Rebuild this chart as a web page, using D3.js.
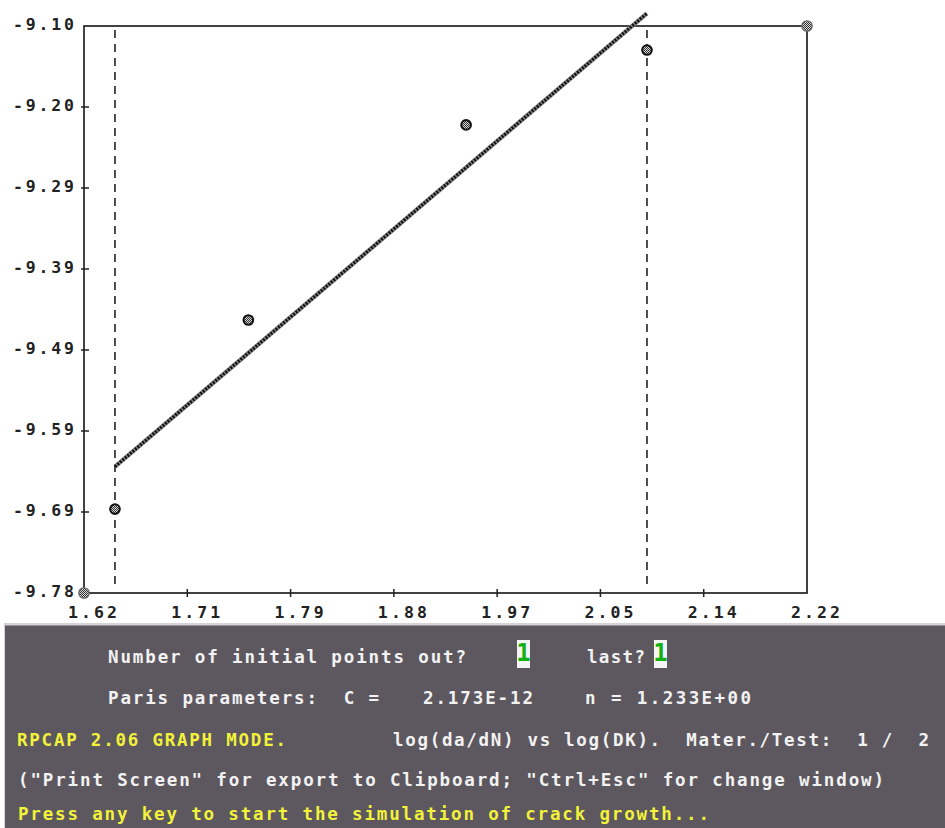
<!DOCTYPE html>
<html>
<head>
<meta charset="utf-8">
<script src="https://cdn.jsdelivr.net/npm/d3@7"></script>
<style>
  body { margin: 0; background: #fff; }
  svg { display: block; }
  text { font-family: "DejaVu Sans Mono", "Liberation Mono", monospace; font-weight: bold; }
</style>
</head>
<body>
<div id="chart-container"></div>
<script>
// log(DK) vs log(da/dN) measurements
const logDK = [1.6457, 1.7564, 1.9371, 2.0872];
const logDaDN = [-9.6793, -9.4526, -9.2187, -9.1288];

// corner markers of the graph window
const cornerX = [1.62, 2.22];
const cornerY = [-9.78, -9.10];

// Paris fit line end points
const fitX = [1.6457, 2.0872];
const fitY = [-9.6285, -9.0848];

// selected range limits (dashed lines)
const limitX = [1.6457, 2.0872];

const xTickLabels = ["1.62", "1.71", "1.79", "1.88", "1.97", "2.05", "2.14", "2.22"];
const yTickLabels = ["-9.78", "-9.69", "-9.59", "-9.49", "-9.39", "-9.29", "-9.20", "-9.10"];

const width = 945;
const height = 828;
const margin = { left: 84, right: 138, top: 26, bottom: 235 };

const svg = d3.select("#chart-container")
    .append("svg")
    .attr("width", width)
    .attr("height", height);

const defs = svg.append("defs");
const dither = defs.append("pattern")
    .attr("id", "dither")
    .attr("width", 2).attr("height", 2)
    .attr("patternUnits", "userSpaceOnUse");
dither.append("rect").attr("width", 2).attr("height", 2).attr("fill", "#d8d8d8");
dither.append("rect").attr("width", 1).attr("height", 1).attr("fill", "#333");
dither.append("rect").attr("x", 1).attr("y", 1).attr("width", 1).attr("height", 1).attr("fill", "#333");

const x = d3.scaleLinear()
    .domain([cornerX[0], cornerX[1]])
    .range([margin.left, width - margin.right]);
const y = d3.scaleLinear()
    .domain([cornerY[0], cornerY[1]])
    .range([height - margin.bottom, margin.top]);

// evenly spaced tick positions, labels as printed by the program
const xTicks = d3.range(xTickLabels.length).map(i => cornerX[0] + i * (cornerX[1] - cornerX[0]) / (xTickLabels.length - 1));
const yTicks = d3.range(yTickLabels.length).map(i => cornerY[0] + i * (cornerY[1] - cornerY[0]) / (yTickLabels.length - 1));

const ink = "#222";

// frame
svg.append("rect")
    .attr("x", x.range()[0]).attr("y", y.range()[1])
    .attr("width", x.range()[1] - x.range()[0])
    .attr("height", y.range()[0] - y.range()[1])
    .attr("fill", "none")
    .attr("stroke", ink)
    .attr("stroke-width", 1.7);

// tick marks
svg.append("g").selectAll("line")
    .data(xTicks.slice(1, -1))
    .join("line")
    .attr("x1", d => x(d)).attr("x2", d => x(d))
    .attr("y1", y.range()[0] - 4).attr("y2", y.range()[0] + 4)
    .attr("stroke", ink).attr("stroke-width", 1.5);

svg.append("g").selectAll("line")
    .data(yTicks.slice(1, -1))
    .join("line")
    .attr("x1", x.range()[0] - 3).attr("x2", x.range()[0] + 5)
    .attr("y1", d => y(d)).attr("y2", d => y(d))
    .attr("stroke", ink).attr("stroke-width", 1.5);

// tick labels
svg.append("g").selectAll("text")
    .data(xTicks)
    .join("text")
    .attr("x", d => x(d) - 16)
    .attr("y", y.range()[0] + 25)
    .attr("textLength", 49)
    .attr("lengthAdjust", "spacing")
    .attr("font-size", 16.5)
    .attr("fill", ink)
    .text((d, i) => xTickLabels[i]);

svg.append("g").selectAll("text")
    .data(yTicks)
    .join("text")
    .attr("x", 13)
    .attr("y", d => y(d) + 4)
    .attr("textLength", 61)
    .attr("lengthAdjust", "spacing")
    .attr("font-size", 16.5)
    .attr("fill", ink)
    .text((d, i) => yTickLabels[i]);

// dashed limits
svg.append("g").selectAll("line")
    .data(limitX)
    .join("line")
    .attr("x1", d => x(d)).attr("x2", d => x(d))
    .attr("y1", y.range()[1] + 4).attr("y2", y.range()[0] - 4)
    .attr("stroke", ink)
    .attr("stroke-width", 1.6)
    .attr("stroke-dasharray", "8,6");

// Paris fit line (textured like the original)
const fit = fitX.map((d, i) => [d, fitY[i]]);
const line = d3.line().x(d => x(d[0])).y(d => y(d[1]));
svg.append("path")
    .attr("d", line(fit))
    .attr("stroke", "#8a8a8a")
    .attr("stroke-width", 4.4)
    .attr("fill", "none");
svg.append("path")
    .attr("d", line(fit))
    .attr("stroke", "#111")
    .attr("stroke-width", 3.2)
    .attr("stroke-dasharray", "2,1.3")
    .attr("fill", "none");

// corner markers
svg.append("g").selectAll("circle")
    .data(cornerX.map((d, i) => [d, cornerY[i]]))
    .join("circle")
    .attr("cx", d => x(d[0])).attr("cy", d => y(d[1]))
    .attr("r", 5.2)
    .attr("fill", "url(#dither)")
    .attr("stroke", "#666")
    .attr("stroke-width", 1.3);

// data points
svg.append("g").selectAll("circle")
    .data(logDK.map((d, i) => [d, logDaDN[i]]))
    .join("circle")
    .attr("cx", d => x(d[0])).attr("cy", d => y(d[1]))
    .attr("r", 4.8)
    .attr("fill", "url(#dither)")
    .attr("stroke", "#111")
    .attr("stroke-width", 2.1);

// bottom text panel
svg.append("rect")
    .attr("x", 4).attr("y", 623)
    .attr("width", width - 4).attr("height", height - 623)
    .attr("fill", "#d6d2d6");
svg.append("rect")
    .attr("x", 5).attr("y", 625.5)
    .attr("width", width - 5).attr("height", height - 625.5)
    .attr("fill", "#5d585f");

const white = "#f2f2f2";
const yellow = "#f2f23a";

const panelText = [
    { t: "Number of initial points out?", x0: 108, x1: 466, y: 663, c: white },
    { t: "last?", x0: 587, x1: 645, y: 663, c: white },
    { t: "Paris parameters:  C =", x0: 108, x1: 379, y: 704, c: white },
    { t: "2.173E-12", x0: 423, x1: 533, y: 704, c: white },
    { t: "n = 1.233E+00", x0: 585, x1: 751, y: 704, c: white },
    { t: "RPCAP 2.06 GRAPH MODE.", x0: 17, x1: 286, y: 746, c: yellow },
    { t: "log(da/dN) vs log(DK).  Mater./Test:  1 /  2", x0: 393, x1: 929, y: 746, c: white },
    { t: "(\"Print Screen\" for export to Clipboard; \"Ctrl+Esc\" for change window)", x0: 18, x1: 884, y: 786, c: white },
    { t: "Press any key to start the simulation of crack growth...", x0: 18, x1: 709, y: 820, c: yellow }
];

svg.append("g").selectAll("text")
    .data(panelText)
    .join("text")
    .attr("x", d => d.x0)
    .attr("y", d => d.y)
    .attr("textLength", d => d.x1 - d.x0)
    .attr("lengthAdjust", "spacing")
    .attr("font-size", 17.5)
    .attr("fill", d => d.c)
    .attr("xml:space", "preserve")
    .style("white-space", "pre")
    .text(d => d.t);

// input boxes with the answers
const answers = [{ v: "1", x0: 517 }, { v: "1", x0: 654 }];
const box = svg.append("g").selectAll("g")
    .data(answers)
    .join("g");
box.append("rect")
    .attr("x", d => d.x0).attr("y", 640)
    .attr("width", 13).attr("height", 28)
    .attr("fill", "#f4f4f4");
box.append("text")
    .attr("x", d => d.x0 + 6.5)
    .attr("y", 661)
    .attr("text-anchor", "middle")
    .attr("font-size", 24)
    .attr("fill", "#12b012")
    .text(d => d.v);
</script>
</body>
</html>
